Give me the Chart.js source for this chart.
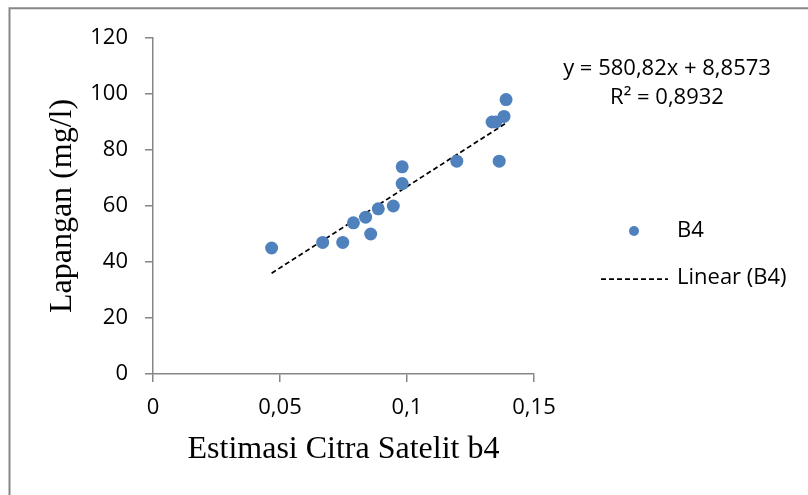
<!DOCTYPE html>
<html>
<head>
<meta charset="utf-8">
<script src="https://cdn.jsdelivr.net/npm/chart.js@4/dist/chart.umd.min.js"></script>
<style>
  html, body { margin: 0; padding: 0; background: #fff; }
  #chart { display: block; }
</style>
</head>
<body>
<canvas id="chart" width="808" height="495"></canvas>
<script>
// data
const satX = [0.0467, 0.0668, 0.0747, 0.0789, 0.0837, 0.0857, 0.0887, 0.0946, 0.0981, 0.0981, 0.1196, 0.1363, 0.1335, 0.1350, 0.1382, 0.1390];
const fieldY = [45, 47, 47, 54, 56, 50, 59, 60, 68, 74, 76, 76, 90, 90, 92, 98];

// linear trend line ends (as drawn)
const trendX = [0.0467, 0.1390];
const trendY = [36.0, 89.6];

const xTickLabels = ["0", "0,05", "0,1", "0,15"];
const yTickLabels = ["0", "20", "40", "60", "80", "100", "120"];

const seriesName = "B4";
const trendName = "Linear (B4)";
const equationLines = ["y = 580,82x + 8,8573", "R\u00B2 = 0,8932"];

const sansFont = '"Open Sans", "Noto Sans", sans-serif';
const serifFont = '"Liberation Serif", "Times New Roman", serif';
const axisGray = "#868686";
const pointBlue = "#4f81bd";

const points = satX.map((x, i) => ({ x: x, y: fieldY[i] }));
const trend = trendX.map((x, i) => ({ x: x, y: trendY[i] }));

// frame line around the figure, legend and trendline label
const extras = {
  id: "extras",
  afterDraw(chart) {
    const ctx = chart.ctx;
    ctx.save();

    // frame (only left and top are visible in the crop)
    ctx.strokeStyle = axisGray;
    ctx.lineWidth = 2;
    ctx.beginPath();
    ctx.moveTo(9.5, 495);
    ctx.lineTo(9.5, 8.3);
    ctx.lineTo(808, 8.3);
    ctx.stroke();

    ctx.fillStyle = "#000";
    ctx.font = "22px " + sansFont;
    ctx.textBaseline = "middle";

    // trendline equation
    ctx.textAlign = "center";
    ctx.fillText(equationLines[0], 667, 69);
    ctx.fillText(equationLines[1], 667, 98);

    // legend
    const ds0 = chart.data.datasets[0];
    const ds1 = chart.data.datasets[1];
    ctx.fillStyle = ds0.backgroundColor;
    ctx.beginPath();
    ctx.arc(634, 231, 5, 0, Math.PI * 2);
    ctx.fill();

    ctx.strokeStyle = ds1.borderColor;
    ctx.lineWidth = ds1.borderWidth;
    ctx.setLineDash(ds1.borderDash);
    ctx.beginPath();
    ctx.moveTo(601, 279);
    ctx.lineTo(668, 279);
    ctx.stroke();
    ctx.setLineDash([]);

    ctx.fillStyle = "#000";
    ctx.textAlign = "left";
    ctx.fillText(seriesName, 677, 231);
    ctx.fillText(trendName, 677, 278);

    ctx.restore();
  }
};

new Chart(document.getElementById("chart").getContext("2d"), {
  type: "scatter",
  data: {
    datasets: [
      {
        label: seriesName,
        data: points,
        backgroundColor: pointBlue,
        borderColor: pointBlue,
        pointRadius: 6.5,
        pointHoverRadius: 6.5,
        borderWidth: 0
      },
      {
        label: trendName,
        data: trend,
        showLine: true,
        borderColor: "#000",
        borderWidth: 1.75,
        borderDash: [5, 3],
        pointRadius: 0,
        fill: false
      }
    ]
  },
  options: {
    responsive: false,
    animation: false,
    layout: { padding: { left: 12, top: 38, right: 274, bottom: 0 } },
    plugins: {
      legend: { display: false },
      tooltip: { enabled: false }
    },
    scales: {
      x: {
        type: "linear",
        min: 0,
        max: 0.15,
        ticks: {
          stepSize: 0.05,
          padding: 13,
          color: "#000",
          font: { family: sansFont, size: 22 },
          callback: (v, i) => xTickLabels[i]
        },
        grid: { drawOnChartArea: false, drawTicks: true, tickLength: 8, color: axisGray, lineWidth: 1.5 },
        border: { color: axisGray, width: 1.5 },
        title: {
          display: true,
          text: "Estimasi Citra Satelit b4",
          color: "#000",
          font: { family: serifFont, size: 32, weight: "normal" },
          padding: { top: 0, bottom: 26 }
        },
        afterFit(s) {
          s.height = 121;
          s.paddingLeft = 0;
          s.paddingRight = 0;
        }
      },
      y: {
        min: 0,
        max: 120,
        ticks: {
          stepSize: 20,
          padding: 17,
          color: "#000",
          font: { family: sansFont, size: 22 },
          callback: (v, i) => yTickLabels[i]
        },
        grid: { drawOnChartArea: false, drawTicks: true, tickLength: 8, color: axisGray, lineWidth: 1.5 },
        border: { color: axisGray, width: 1.5 },
        title: {
          display: true,
          text: "Lapangan (mg/l)",
          color: "#000",
          font: { family: serifFont, size: 32, weight: "normal" },
          padding: { top: 31, bottom: 0 }
        },
        afterFit(s) {
          s.width = 141;
          s.paddingTop = 0;
          s.paddingBottom = 0;
        }
      }
    }
  },
  plugins: [extras]
});
</script>
</body>
</html>
